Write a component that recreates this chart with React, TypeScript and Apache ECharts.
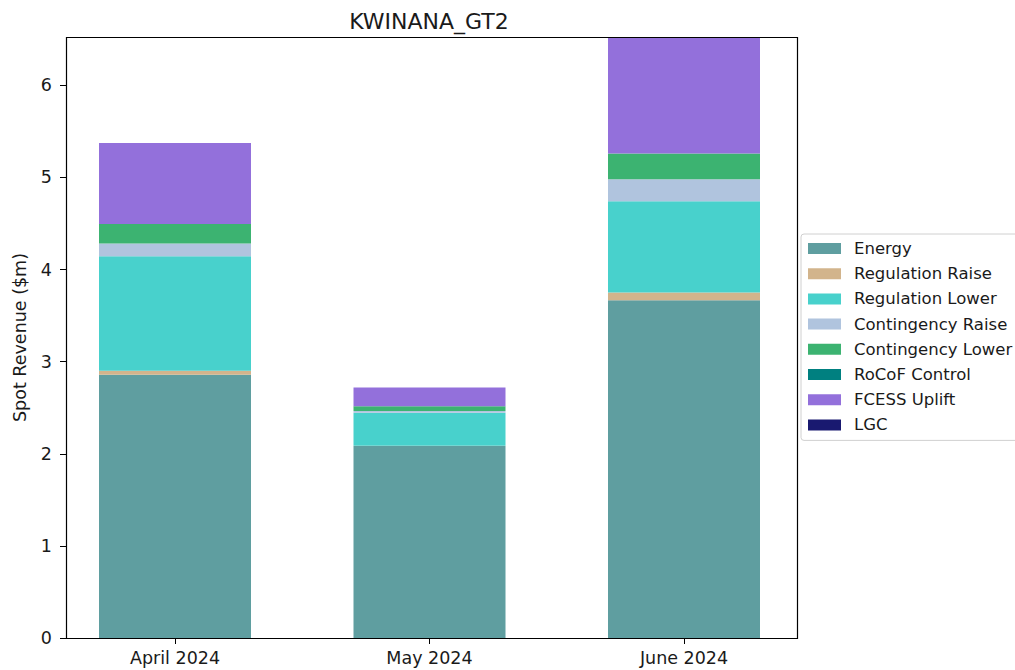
import React, { useEffect, useRef } from "react";
import * as echarts from "echarts";

const months = ["April 2024", "May 2024", "June 2024"];
const energy = [2.857, 2.083, 3.667];
const regulationRaise = [0.043, 0.005, 0.084];
const regulationLower = [1.245, 0.357, 0.99];
const contingencyRaise = [0.137, 0.018, 0.239];
const contingencyLower = [0.213, 0.054, 0.279];
const rocofControl = [0, 0, 0];
const fcessUplift = [0.879, 0.203, 1.265];
const lgc = [0, 0, 0];

const seriesDefs = [
  { name: "Energy", values: energy, color: "#5F9EA0" },
  { name: "Regulation Raise", values: regulationRaise, color: "#D2B48C" },
  { name: "Regulation Lower", values: regulationLower, color: "#48D1CC" },
  { name: "Contingency Raise", values: contingencyRaise, color: "#B0C4DE" },
  { name: "Contingency Lower", values: contingencyLower, color: "#3CB371" },
  { name: "RoCoF Control", values: rocofControl, color: "#008080" },
  { name: "FCESS Uplift", values: fcessUplift, color: "#9370DB" },
  { name: "LGC", values: lgc, color: "#191970" },
];

const yTicks = [0, 1, 2, 3, 4, 5, 6];
const FONT = "DejaVu Sans";

export default function App() {
  const ref = useRef<HTMLDivElement>(null);
  useEffect(() => {
    if (!ref.current) return;
    const chart = echarts.init(ref.current, null, { renderer: "svg" });
    const totals = months.map((_, i) =>
      seriesDefs.reduce((s, d) => s + d.values[i], 0)
    );
    const yMax = Math.max(...totals);
    chart.setOption({
      animation: false,
      backgroundColor: "#ffffff",
      textStyle: { fontFamily: FONT, color: "#000" },
      title: {
        text: "KWINANA_GT2",
        left: 424,
        textAlign: "center",
        top: 5,
        textStyle: { fontFamily: FONT, fontSize: 22, fontWeight: "normal", color: "#1a1a1a" },
      },
      grid: {
        left: 47.75,
        top: 37,
        width: 763.5,
        height: 601,
        show: false,
      },
      graphic: [
        {
          type: "rect",
          z: 100,
          silent: true,
          shape: { x: 66.5, y: 37.5, width: 731, height: 601 },
          style: { fill: "none", stroke: "#000", lineWidth: 1.2 },
        },
      ],
      legend: {
        orient: "vertical",
        left: 801,
        top: 234,
        padding: [6, 8, 7, 7],
        itemWidth: 33,
        itemHeight: 11,
        itemGap: 8.2,
        borderColor: "#d0d0d0",
        borderWidth: 1,
        borderRadius: 3,
        icon: "rect",
        textStyle: {
          fontFamily: FONT,
          fontSize: 16.5,
          lineHeight: 17,
          color: "#1a1a1a",
          padding: [0, 0, 0, 8],
        },
        data: seriesDefs.map((d) => d.name),
      },
      xAxis: {
        type: "category",
        data: months,
        boundaryGap: true,
        splitLine: { show: false },
        axisLine: { show: false },
        axisTick: { show: true, alignWithLabel: true, length: 6, lineStyle: { color: "#000" } },
        axisLabel: {
          fontFamily: FONT,
          fontSize: 17.5,
          color: "#1a1a1a",
          margin: 11,
        },
      },
      yAxis: {
        type: "value",
        min: 0,
        max: yMax,
        offset: -18.25,
        name: "Spot Revenue ($m)",
        nameLocation: "middle",
        nameGap: 37,
        nameTextStyle: { fontFamily: FONT, fontSize: 17.5, color: "#1a1a1a" },
        splitLine: { show: false },
        axisLine: { show: false },
        axisTick: { show: true, length: 6, lineStyle: { color: "#000" }, customValues: yTicks },
        axisLabel: {
          customValues: yTicks,
          formatter: (v: number) => String(v),
          fontFamily: FONT,
          fontSize: 17.5,
          color: "#1a1a1a",
          margin: 14,
        },
      },
      series: seriesDefs.map((d) => ({
        name: d.name,
        type: "bar",
        stack: "total",
        barWidth: 152,
        itemStyle: { color: d.color },
        data: d.values,
      })),
    });
    return () => chart.dispose();
  }, []);
  return (
    <div
      ref={ref}
      style={{ position: "fixed", left: 0, top: 0, width: 1015, height: 670 }}
    />
  );
}
